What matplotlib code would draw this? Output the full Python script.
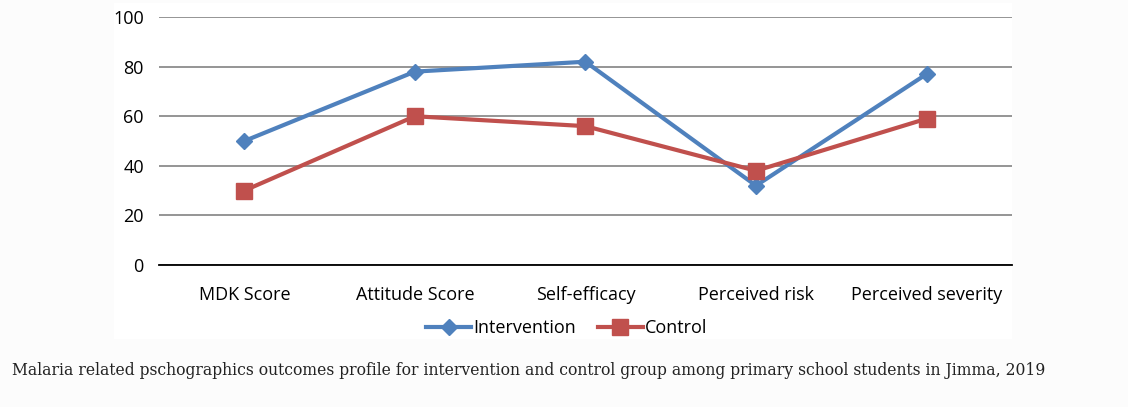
import matplotlib
matplotlib.use("Agg")
import matplotlib.pyplot as plt
from matplotlib.patches import Rectangle

categories = ["MDK Score", "Attitude Score", "Self-efficacy", "Perceived risk", "Perceived severity"]
intervention = [50, 78, 82, 32, 77]
control = [30, 60, 56, 38, 59]
yticks = [0, 20, 40, 60, 80, 100]

caption = ("Malaria related pschographics outcomes profile for intervention and control "
           "group among primary school students in Jimma, 2019")

fig = plt.figure(figsize=(11.28, 4.07), dpi=100, facecolor="#fcfcfc")

# white chart box behind the axes
fig.patches.append(Rectangle((0.101, 0.167), 0.796, 0.826, transform=fig.transFigure,
                             facecolor="white", edgecolor="none", zorder=-1))

ax = fig.add_axes([0.141, 0.349, 0.756, 0.609])
ax.set_facecolor("none")

x = list(range(len(categories)))
ax.plot(x, intervention, color="#4F81BD", lw=3, marker="D", ms=8,
        label="Intervention", zorder=3)
ax.plot(x, control, color="#C0504D", lw=3, marker="s", ms=11,
        label="Control", zorder=3)

ax.set_xlim(-0.5, len(categories) - 0.5)
ax.set_ylim(0, 100)
ax.set_yticks(yticks)
ax.set_xticks(x)
ax.set_xticklabels(categories)
ax.yaxis.grid(True, color="#8c8c8c", lw=1.3)
ax.set_axisbelow(True)
for s in ["top", "right", "left"]:
    ax.spines[s].set_visible(False)
ax.spines["bottom"].set_color("black")
ax.spines["bottom"].set_linewidth(1.3)
ax.tick_params(axis="both", length=0, labelsize=13, colors="black")
ax.tick_params(axis="y", pad=11)
ax.tick_params(axis="x", pad=15)
for t in ax.get_xticklabels() + ax.get_yticklabels():
    t.set_fontfamily("Open Sans")

leg = ax.legend(loc="center", bbox_to_anchor=(0.478, -0.255), ncol=2, frameon=False,
                handlelength=2.5, handletextpad=0.1, columnspacing=1.2,
                prop={"family": "Open Sans", "size": 13})

fig.text(0.011, 0.09, caption, family="DejaVu Serif", fontsize=11.25, color="#222222",
         va="center", ha="left")

fig.savefig("out.png", dpi=100, facecolor=fig.get_facecolor())
